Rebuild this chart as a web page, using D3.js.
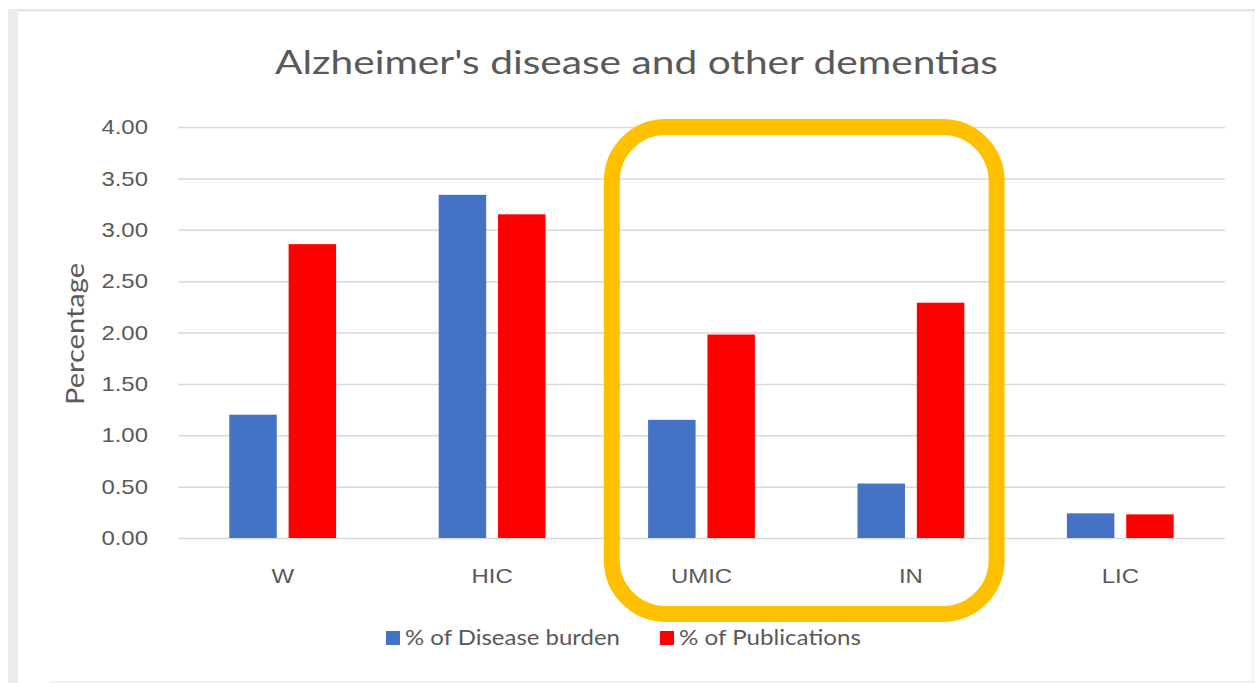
<!DOCTYPE html>
<html><head><meta charset="utf-8">
<script src="https://cdn.jsdelivr.net/npm/d3@7"></script>
<style>
html,body{margin:0;padding:0;background:#fff;}
svg{display:block;font-family:Lato,"Open Sans",sans-serif;}
</style></head>
<body>
<svg id="chart" width="1255" height="683"></svg>
<script>
const categories = ["W", "HIC", "UMIC", "IN", "LIC"];
const seriesNames = ["% of Disease burden", "% of Publications"];
const diseaseBurden = [1.20, 3.34, 1.15, 0.53, 0.24];
const publications = [2.86, 3.15, 1.98, 2.29, 0.23];
const yTicks = [0, 0.5, 1, 1.5, 2, 2.5, 3, 3.5, 4];
const highlighted = ["UMIC", "IN"];
const colors = ["#4472C4", "#FF0000"];
const titleText = "Alzheimer's disease and other dementias";
const yTitle = "Percentage";

const svg = d3.select("#chart");
const plot = {left: 178, right: 1225, top: 127, bottom: 538};
const stretch = 1.14; // horizontal stretch of text in the reference

function stretchText(sel) {
  sel.each(function() {
    const n = d3.select(this);
    const w = this.getComputedTextLength();
    n.attr("textLength", w * stretch).attr("lengthAdjust", "spacingAndGlyphs");
  });
}

// frame (screenshot edges)
svg.append("rect").attr("x", 8).attr("y", 9).attr("width", 1247).attr("height", 2.5).attr("fill", "#e6e6e6");
svg.append("rect").attr("x", 8).attr("y", 9).attr("width", 10).attr("height", 674).attr("fill", "#ececec");
svg.append("rect").attr("x", 1252).attr("y", 11).attr("width", 1.5).attr("height", 672).attr("fill", "#f0f0f0");
svg.append("rect").attr("x", 50).attr("y", 681).attr("width", 1205).attr("height", 1.5).attr("fill", "#f0f0f0");

const x0 = d3.scaleBand().domain(categories).range([plot.left, plot.right]).padding(0);
const x1 = d3.scaleBand().domain(seriesNames)
  .range([x0.bandwidth() * 0.245, x0.bandwidth() * 0.755]).paddingInner(0.2).paddingOuter(0);
const y = d3.scaleLinear().domain([0, 4]).range([plot.bottom, plot.top]);
const color = d3.scaleOrdinal().domain(seriesNames).range(colors);

// gridlines + y ticks
const yAxis = d3.axisLeft(y).tickValues(yTicks).tickFormat(d3.format(".2f"))
  .tickSize(-(plot.right - plot.left)).tickPadding(30);
const gy = svg.append("g").attr("transform", `translate(${plot.left},0)`).call(yAxis);
gy.select(".domain").remove();
gy.selectAll(".tick line").attr("stroke", "#d9d9d9").attr("stroke-width", 1.5);
gy.selectAll(".tick text").attr("fill", "#595959").style("font-size", "21px").call(stretchText);

// bars
const data = categories.map((c, i) => ({cat: c, values: [
  {key: seriesNames[0], value: diseaseBurden[i]},
  {key: seriesNames[1], value: publications[i]}]}));
const groups = svg.append("g").selectAll("g").data(data).join("g")
  .attr("transform", d => `translate(${x0(d.cat)},0)`);
groups.selectAll("rect").data(d => d.values).join("rect")
  .attr("x", d => x1(d.key)).attr("width", x1.bandwidth())
  .attr("y", d => y(d.value)).attr("height", d => y(0) - y(d.value))
  .attr("fill", d => color(d.key));

// x axis labels
const xAxis = d3.axisBottom(x0).tickSize(0).tickPadding(30);
const gx = svg.append("g").attr("transform", `translate(0,${plot.bottom})`).call(xAxis);
gx.select(".domain").remove();
gx.selectAll(".tick text").attr("fill", "#595959").style("font-size", "21px").call(stretchText);

// title
svg.append("text").attr("x", 636.5).attr("y", 74).attr("text-anchor", "middle")
  .attr("fill", "#595959").style("font-size", "32px").text(titleText)
  .attr("textLength", 723).attr("lengthAdjust", "spacingAndGlyphs");

// y title
svg.append("text").attr("transform", "translate(84,334) rotate(-90)")
  .attr("text-anchor", "middle").attr("fill", "#595959").style("font-size", "25px").text(yTitle)
  .attr("textLength", 142).attr("lengthAdjust", "spacingAndGlyphs");

// legend
const legendX = [386, 660];
const legendW = [215, 182];
const lg = svg.append("g").selectAll("g").data(seriesNames).join("g")
  .attr("transform", (d, i) => `translate(${legendX[i]},638)`);
lg.append("rect").attr("x", 0).attr("y", -7).attr("width", 14).attr("height", 14)
  .attr("fill", d => color(d));
lg.append("text").attr("x", 19).attr("y", 7).attr("fill", "#595959").style("font-size", "21px").text(d => d)
  .attr("textLength", (d, i) => legendW[i]).attr("lengthAdjust", "spacingAndGlyphs");

// highlight box around UMIC & IN
const hx0 = x0(highlighted[0]), hx1 = x0(highlighted[highlighted.length - 1]) + x0.bandwidth();
svg.append("rect")
  .attr("x", hx0 + 15).attr("y", y(4))
  .attr("width", (hx1 - hx0) - 34).attr("height", 487)
  .attr("rx", 54).attr("ry", 54)
  .attr("fill", "none").attr("stroke", "#FFC000").attr("stroke-width", 16);
</script>
</body></html>
